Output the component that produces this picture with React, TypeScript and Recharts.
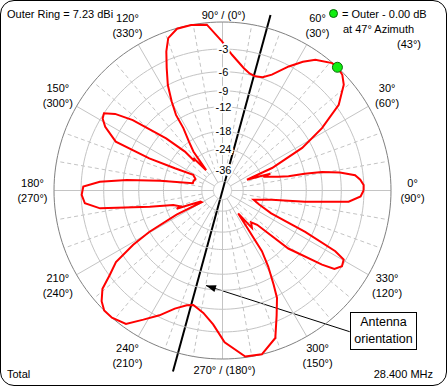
import React from 'react';
import { ScatterChart, Scatter, XAxis, YAxis, ReferenceDot, ReferenceLine } from 'recharts';

// Azimuth pattern at 28.400 MHz, dB relative to outer ring (7.23 dBi)
const patternAz = [
  0, 2.2, 4.5, 6.6, 8.7, 10.5, 11.5, 12.1, 14, 18.6, 19.4, 21, 23.8, 24.4, 28.1, 32.1, 36.4, 41.1, 44, 47,
  49.3, 54.6, 58, 61.9, 66.9, 70.5, 74, 77, 80.2, 86, 90.2, 95.4, 100.7, 105.7, 109.6, 112, 114.5, 117.4,
  119.7, 121.6, 122.1, 124.5, 126.7, 128.8, 131.9, 133.5, 134, 137.3, 141.9, 144.5, 146.9, 149, 151.5,
  155.4, 156.3, 155, 152, 157, 162.5, 166.1, 171.1, 173.7, 175.9, 178.4, 181.8, 185.3, 188.3, 192.6,
  196.4, 200.4, 201.7, 203.5, 207, 209.4, 207.8, 209.5, 211.3, 213.9, 216.8, 219.3, 222.5, 225.4, 229,
  234.1, 238.5, 243.2, 248, 252.7, 255.7, 258.5, 261.1, 266, 270.8, 277.8, 283.5, 289.7, 293.4, 296.9,
  298.5, 301, 303, 303.7, 304.3, 308.2, 312, 315.3, 318.6, 323.3, 325, 327.6, 330.3, 331.7, 333.4, 334.9,
  339, 343.6, 349.5, 352.2, 354.9, 357.5,
];
const patternDb = [
  -3.05, -3.03, -3.4, -4.0, -6.0, -8.75, -12, -15.7, -18.5, -23.4, -20.6, -25, -31.6, -19.4, -10.7, -6.2, -2.65, -0.79, -0.2, 0,
  -0.05, -0.85, -1.8, -3.1, -5.0, -5.8, -6.0, -5.8, -5.22, -3.67, -2.1, -0.2, 0, -0.05, -0.7, -2.0, -3.86, -6.0,
  -8.5, -11.0, -14.2, -18, -21.3, -32, -23.2, -24.5, -19.5, -13.5, -6.7, -4.2, -3.0, -3.2, -4.0,
  -6.2, -12.8, -20, -27.9, -30, -29.3, -29.3, -16.8, -9.6, -5.4, -3.27, -3.07, -3.4, -5.3, -14.0,
  -20.4, -22.5, -21.1, -27, -33, -33.5, -20.2, -11.9, -8.2, -4.67, -3.1, -1.42, -0.47, 0, 0,
  -0.4, -1.83, -3.2, -4.8, -5.8, -6.1, -5.7, -5.27, -3.9, -1.8, -0.1, 0, -1.25, -3.64, -5.76,
  -7.76, -11, -14.5, -24.2, -30.9, -21.7, -23.5, -21.3, -11.2, -5.25, -3.6, -3.0, -3.24, -4.7, -10.3, -19.6,
  -25, -28.3, -20.8, -12.1, -4.9, -3.4,
];

const ringDb = [0, -3, -6, -9, -12, -18, -24, -36];
const ringLabels = ['-3', '-6', '-9', '-12', '-18', '-24', '-36'];
const innerRingDb = -50;
const spokeAz = [0, 30, 60, 90, 120, 150, 180, 210, 240, 270, 300, 330];
const minorSpokeAz = [10, 20, 40, 50, 70, 80, 100, 110, 130, 140, 160, 170, 190, 200, 220, 230, 250, 260, 280, 290, 310, 320, 340, 350];
const azTicks = [0, 30, 60, 120, 150, 180, 210, 240, 300, 330];
const compassTicks = ['90°', '60°', '30°', '330°', '300°', '270°', '240°', '210°', '150°', '120°'];
const maxAz = 47;
const maxDb = 0;
const antennaAz = 74.7;

const W = 448;
const H = 387;
const FONT = "'Liberation Sans', Arial, sans-serif";

// ARRL log scale: each 2 dB is a factor 0.89 in radius
const frac = (db: number) => Math.pow(0.89, -db / 2);
const polar = (az: number, f: number) => ({
  x: f * Math.cos((az * Math.PI) / 180),
  y: f * Math.sin((az * Math.PI) / 180),
});

const patternData = [...patternAz, patternAz[0]].map((az, i) =>
  polar(az, frac(i < patternDb.length ? patternDb[i] : patternDb[0]))
);

const circle = (f: number) => {
  const pts = [];
  for (let a = 0; a <= 360; a += 2) pts.push(polar(a, f));
  return pts;
};

const NoDot = () => <g />;

const GreenDot = (p: any) => (
  <circle cx={p.cx} cy={p.cy} r={5} fill="#11ee11" stroke="#0a6a0a" strokeWidth={1} />
);

const Txt = ({ x, y, children, size = 11, anchor = 'middle' }: any) => (
  <text x={x} y={y} textAnchor={anchor} dominantBaseline="central" fontSize={size} fontFamily={FONT} fill="#000">
    {children}
  </text>
);

const arrowFrom = { x: 0.755, y: -0.838 };
const arrowTo = { x: -0.098, y: -0.564 };

export default function App() {
  const labelF = 1.128;
  const arrowAngle = (Math.atan2(-(arrowFrom.y - arrowTo.y), arrowFrom.x - arrowTo.x) * 180) / Math.PI;

  return (
    <div style={{ position: 'absolute', left: 0, top: 0, width: W, height: H, background: '#fff', fontFamily: FONT }}>
      <ScatterChart width={W} height={H} margin={{ top: 22, right: 57, bottom: 28, left: 54 }}>
        <XAxis type="number" dataKey="x" domain={[-1, 1]} hide />
        <YAxis type="number" dataKey="y" domain={[-1, 1]} hide />

        {minorSpokeAz.map((az) => (
          <Scatter
            key={`m${az}`}
            data={[polar(az, frac(-36)), polar(az, 1)]}
            line={{ stroke: '#c4c4c4', strokeWidth: 1, strokeDasharray: '4 3' }}
            shape={NoDot}
            isAnimationActive={false}
          />
        ))}
        {spokeAz.map((az) => (
          <Scatter
            key={`s${az}`}
            data={[polar(az, frac(innerRingDb)), polar(az, 1)]}
            line={{ stroke: '#c4c4c4', strokeWidth: 1 }}
            shape={NoDot}
            isAnimationActive={false}
          />
        ))}
        {[innerRingDb, ...ringDb].map((db) => (
          <Scatter
            key={`r${db}`}
            data={circle(frac(db))}
            line={{ stroke: db === 0 ? '#808080' : '#c4c4c4', strokeWidth: 1 }}
            shape={NoDot}
            isAnimationActive={false}
          />
        ))}

        <Scatter
          data={patternData}
          line={{ stroke: '#ff0000', strokeWidth: 2 }}
          shape={NoDot}
          isAnimationActive={false}
        />

        <ReferenceLine
          segment={[polar(antennaAz, 1.08), polar(antennaAz + 180, 1.114)]}
          stroke="#000"
          strokeWidth={2}
          ifOverflow="visible"
        />
        <ReferenceLine segment={[arrowFrom, arrowTo]} stroke="#000" strokeWidth={1} ifOverflow="visible" />
        <ReferenceDot
          x={arrowTo.x}
          y={arrowTo.y}
          ifOverflow="visible"
          shape={(p: any) => (
            <polygon
              points="0,0 10,-3.5 10,3.5"
              fill="#000"
              transform={`translate(${p.cx},${p.cy}) rotate(${arrowAngle})`}
            />
          )}
        />

        <Scatter data={[polar(maxAz, frac(maxDb))]} shape={GreenDot} isAnimationActive={false} />

        {ringLabels.map((t, i) => {
          const p = polar(90, frac(ringDb[i + 1]));
          return (
            <ReferenceDot
              key={`rl${t}`}
              x={p.x}
              y={p.y}
              ifOverflow="visible"
              shape={(q: any) => (
                <text
                  x={q.cx + 1}
                  y={q.cy}
                  textAnchor="middle"
                  dominantBaseline="central"
                  fontSize={11}
                  fontFamily={FONT}
                  fill="#000"
                  stroke="#fff"
                  strokeWidth={4}
                  paintOrder="stroke"
                >
                  {t}
                </text>
              )}
            />
          );
        })}

        {azTicks.map((az, i) => {
          const p = polar(az, labelF);
          return (
            <ReferenceDot
              key={`al${az}`}
              x={p.x}
              y={p.y}
              ifOverflow="visible"
              shape={(q: any) => (
                <g>
                  <Txt x={q.cx} y={q.cy - 7.5}>{`${az}°`}</Txt>
                  <Txt x={q.cx} y={q.cy + 7.5}>{`(${compassTicks[i]})`}</Txt>
                </g>
              )}
            />
          );
        })}
        <ReferenceDot
          {...polar(90, 1.042)}
          ifOverflow="visible"
          shape={(q: any) => <Txt x={q.cx + 1} y={q.cy}>90° / (0°)</Txt>}
        />
        <ReferenceDot
          {...polar(270, 1.065)}
          ifOverflow="visible"
          shape={(q: any) => <Txt x={q.cx + 2} y={q.cy}>270° / (180°)</Txt>}
        />
      </ScatterChart>

      <div style={{ position: 'absolute', left: 7, top: 7, fontSize: 11, lineHeight: '14px' }}>Outer Ring = 7.23 dBi</div>
      <div
        style={{
          position: 'absolute', left: 329, top: 9, width: 9, height: 9, borderRadius: '50%',
          background: '#11ee11', border: '1px solid #0a6a0a', boxSizing: 'border-box',
        }}
      />
      <div style={{ position: 'absolute', left: 342, top: 7, fontSize: 11, lineHeight: '14px' }}>= Outer - 0.00 dB</div>
      <div style={{ position: 'absolute', left: 343, top: 22, fontSize: 11, lineHeight: '14px' }}>at 47° Azimuth</div>
      <div style={{ position: 'absolute', left: 397, top: 37, fontSize: 11, lineHeight: '14px' }}>(43°)</div>
      <div style={{ position: 'absolute', left: 7, top: 367, fontSize: 11, lineHeight: '14px' }}>Total</div>
      <div style={{ position: 'absolute', right: 15, top: 367, fontSize: 11, lineHeight: '14px' }}>28.400 MHz</div>
      <div
        style={{
          position: 'absolute', left: 350, top: 312, width: 67, height: 38, boxSizing: 'border-box',
          border: '1px solid #000', background: '#fff', fontSize: 12.5, lineHeight: '16.5px',
          textAnchor: 'middle', textAlign: 'center', paddingTop: 1,
        } as any}
      >
        Antenna
        <br />
        orientation
      </div>
      <div
        style={{
          position: 'absolute', left: 0, top: 0, width: 447, height: 386, boxSizing: 'border-box',
          border: '1px solid #000', borderRadius: 14, pointerEvents: 'none',
        }}
      />
    </div>
  );
}
